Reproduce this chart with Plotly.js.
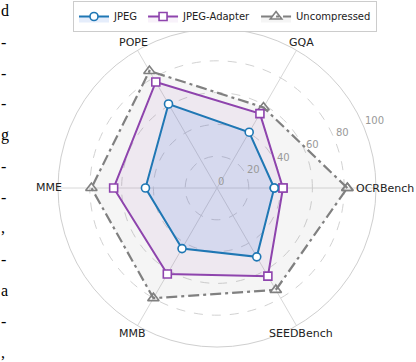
<!DOCTYPE html>
<html>
<head>
<meta charset="utf-8">
<script src="https://cdn.plot.ly/plotly-3.0.1.min.js"></script>
<style>html,body{margin:0;padding:0;background:#fff;}#chart{width:416px;height:362px;}</style>
</head>
<body>
<div id="chart"></div>
<script>
// ---- data ----
const categories = ['OCRBench', 'GQA', 'POPE', 'MME', 'MMB', 'SEEDBench'];
const jpegValues = [36, 40.5, 61, 45, 44, 50];
const adapterValues = [41.5, 54, 77, 65, 62.5, 64];
const uncompressedValues = [82, 58.5, 85, 79, 80, 74];
const seriesNames = ['JPEG', 'JPEG-Adapter', 'Uncompressed'];
const radialTicks = [0, 20, 40, 60, 80, 100];
const sideFragments = ['d', '-', '-', '-', 'g', '-', '-', ',', '-', 'a', '-', ','];

// ---- layout constants ----
const W = 416, H = 362;
const CX = 217, CY = 188, R = 159;
const LABEL_R = 168;
const RMAX = 100;
const RLABEL_ANGLE = 22.5;

function closed(arr) { return arr.concat([arr[0]]); }

const traces = [
  {
    type: 'scatterpolar', name: seriesNames[2],
    r: closed(uncompressedValues), theta: closed(categories),
    mode: 'lines+markers', fill: 'toself', fillcolor: 'rgba(128,128,128,0.08)',
    line: {color: '#808080', width: 2.2, dash: '11px,4px,3px,4px'},
    marker: {symbol: 'triangle-up-open', size: 10, color: '#808080', line: {width: 1.6, color: '#808080'}}
  },
  {
    type: 'scatterpolar', name: seriesNames[1],
    r: closed(adapterValues), theta: closed(categories),
    mode: 'lines+markers', fill: 'toself', fillcolor: 'rgba(150,70,180,0.07)',
    line: {color: '#8e44ad', width: 2},
    marker: {symbol: 'square', size: 8, color: '#ffffff', line: {width: 1.6, color: '#8e44ad'}}
  },
  {
    type: 'scatterpolar', name: seriesNames[0],
    r: closed(jpegValues), theta: closed(categories),
    mode: 'lines+markers', fill: 'toself', fillcolor: 'rgba(55,115,225,0.13)',
    line: {color: '#1f77b4', width: 2},
    marker: {symbol: 'circle', size: 8, color: '#ffffff', line: {width: 1.6, color: '#1f77b4'}}
  }
];

const annotations = [];
categories.forEach(function (c, i) {
  const ang = i * 60 * Math.PI / 180;
  const px = CX + LABEL_R * Math.cos(ang);
  const py = CY - LABEL_R * Math.sin(ang);
  annotations.push({
    text: c, xref: 'paper', yref: 'paper',
    x: px / W, y: 1 - py / H, xanchor: 'center', yanchor: 'middle',
    showarrow: false, font: {family: 'DejaVu Sans', size: 11, color: '#222'}
  });
});
radialTicks.forEach(function (v) {
  const a = RLABEL_ANGLE * Math.PI / 180;
  const rr = v / RMAX * R;
  const px = CX + rr * Math.cos(a);
  const py = CY - rr * Math.sin(a);
  annotations.push({
    text: String(v), xref: 'paper', yref: 'paper',
    x: px / W, y: 1 - py / H, xanchor: 'left', yanchor: 'bottom', borderpad: 0,
    showarrow: false, font: {family: 'DejaVu Sans', size: 10, color: '#999999'}
  });
});
sideFragments.forEach(function (t, i) {
  const py = 11 + i * 31;
  annotations.push({
    text: t, xref: 'paper', yref: 'paper',
    x: 0, y: 1 - py / H, xanchor: 'left', yanchor: 'middle', borderpad: 0,
    showarrow: false, font: {family: 'Liberation Serif', size: 16, color: '#000'}
  });
});

const layout = {
  width: W, height: H,
  margin: {l: 0, r: 0, t: 0, b: 0},
  paper_bgcolor: '#ffffff',
  font: {family: 'DejaVu Sans', size: 10, color: '#333'},
  showlegend: true,
  legend: {
    orientation: 'h', x: 225 / W, xanchor: 'center', y: 1 - 1 / H, yanchor: 'top',
    bordercolor: '#cccccc', borderwidth: 1, bgcolor: '#ffffff',
    traceorder: 'reversed', font: {family: 'DejaVu Sans', size: 10, color: '#222'}
  },
  polar: {
    domain: {x: [(CX - R) / W, (CX + R) / W], y: [(H - CY - R) / H, (H - CY + R) / H]},
    bgcolor: '#ffffff',
    angularaxis: {
      type: 'category', categoryarray: categories,
      rotation: 0, direction: 'counterclockwise', layer: 'below traces',
      showticklabels: false, ticks: '',
      showgrid: true, gridcolor: '#d8d8d8', gridwidth: 1,
      showline: true, linecolor: '#cfcfcf', linewidth: 1
    },
    radialaxis: {
      range: [0, RMAX], tickvals: radialTicks, layer: 'below traces',
      angle: RLABEL_ANGLE, showticklabels: false, showline: false, ticks: '',
      gridcolor: '#d2d2d2', griddash: 'dash', gridwidth: 1
    }
  },
  annotations: annotations
};

Plotly.newPlot('chart', traces, layout, {displayModeBar: false, staticPlot: true});
</script>
</body>
</html>
